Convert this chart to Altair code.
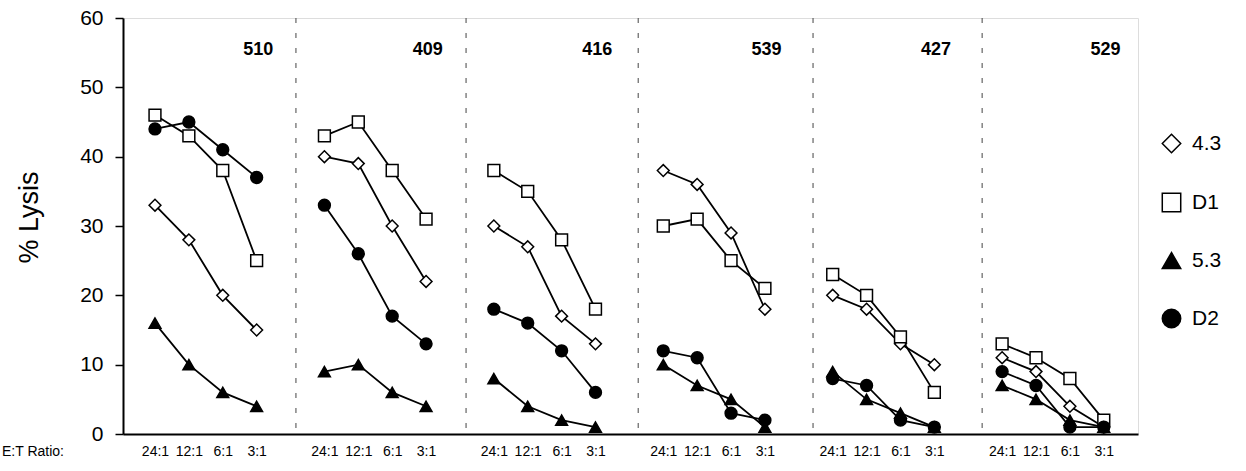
import altair as alt
import pandas as pd

panels = ["510", "409", "416", "539", "427", "529"]
ratios = ["24:1", "12:1", "6:1", "3:1"]
series = ["4.3", "D1", "5.3", "D2"]

lysis_43 = [33, 28, 20, 15, 40, 39, 30, 22, 30, 27, 17, 13, 38, 36, 29, 18, 20, 18, 13, 10, 11, 9, 4, 1]
lysis_D1 = [46, 43, 38, 25, 43, 45, 38, 31, 38, 35, 28, 18, 30, 31, 25, 21, 23, 20, 14, 6, 13, 11, 8, 2]
lysis_53 = [16, 10, 6, 4, 9, 10, 6, 4, 8, 4, 2, 1, 10, 7, 5, 1, 9, 5, 3, 1, 7, 5, 2, 1]
lysis_D2 = [44, 45, 41, 37, 33, 26, 17, 13, 18, 16, 12, 6, 12, 11, 3, 2, 8, 7, 2, 1, 9, 7, 1, 1]

values_by_series = {"4.3": lysis_43, "D1": lysis_D1, "5.3": lysis_53, "D2": lysis_D2}

# layout constants
SLOTS = 5
divider_pos = [4.16, 9.18, 14.26, 19.42, 24.41]
x_domain = [-0.944, 29.01]

rows = []
for s in series:
    vals = values_by_series[s]
    for p, pname in enumerate(panels):
        for i, r in enumerate(ratios):
            rows.append({"series": s, "panel": pname, "ratio": r,
                         "pos": p * SLOTS + i, "lysis": vals[p * 4 + i]})
df = pd.DataFrame(rows)

tick_vals = [p * SLOTS + i for p in range(len(panels)) for i in range(len(ratios))]
label_expr = "[" + ",".join(f"'{r}'" for r in ratios) + "][datum.value % 5]"

W, H = 1015, 416
SMALL_FONT = "Liberation Sans"

xscale = alt.Scale(domain=x_domain, nice=False, zero=False)
yscale = alt.Scale(domain=[0, 60], nice=False)

base = alt.Chart(df)

lines = base.mark_line(color="black", strokeWidth=1.8).encode(
    x=alt.X("pos:Q", scale=xscale,
            axis=alt.Axis(values=tick_vals, labelExpr=label_expr, title=None, grid=False,
                          ticks=False, domainColor="black", domainWidth=2,
                          labelFont=SMALL_FONT, labelFontSize=14,
                          labelColor="black", labelPadding=10, labelFlush=False,
                          labelOverlap=False)),
    y=alt.Y("lysis:Q", scale=yscale,
            axis=alt.Axis(values=[0, 10, 20, 30, 40, 50, 60], title="% Lysis", grid=False,
                          tickSize=8, tickColor="black", tickWidth=1.5,
                          domainColor="black", domainWidth=2,
                          labelFont="Liberation Sans", labelFontSize=21, labelColor="black",
                          labelPadding=12,
                          titleFont="Liberation Sans", titleFontSize=27, titleFontWeight="normal",
                          titleColor="black", titleX=-94, titleY=199, titleAngle=-90,
                          titleAlign="center", titleBaseline="middle")),
    detail=["series:N", "panel:N"],
)

leg = alt.Legend(title=None, orient="none", legendX=1038, legendY=115,
                 symbolSize=340, symbolStrokeWidth=1.5, labelFont="Liberation Sans",
                 labelFontSize=21, labelColor="black", rowPadding=34, labelOffset=10)

points = base.mark_point(filled=True, size=140, strokeWidth=1.5, opacity=1).encode(
    x=alt.X("pos:Q", scale=xscale),
    y=alt.Y("lysis:Q", scale=yscale),
    shape=alt.Shape("series:N", sort=series,
                    scale=alt.Scale(domain=series, range=["diamond", "square", "triangle-up", "circle"]),
                    legend=leg),
    fill=alt.Fill("series:N", sort=series,
                  scale=alt.Scale(domain=series, range=["white", "white", "black", "black"]),
                  legend=leg),
    stroke=alt.Stroke("series:N", sort=series,
                      scale=alt.Scale(domain=series, range=["black", "black", "black", "black"]),
                      legend=leg),
)

div_df = pd.DataFrame({"pos": divider_pos})
dividers = alt.Chart(div_df).mark_rule(color="#444", strokeWidth=1, strokeDash=[5, 10]).encode(
    x=alt.X("pos:Q", scale=xscale)
)

lab_df = pd.DataFrame({"panel": panels, "pos": [p * SLOTS + 3.05 for p in range(len(panels))]})
panel_labels = alt.Chart(lab_df).mark_text(font="Liberation Sans", fontSize=18, fontWeight="bold",
                                           color="black", baseline="middle", align="center").encode(
    x=alt.X("pos:Q", scale=xscale),
    y=alt.value(32),
    text="panel:N",
)

et_label = alt.Chart(pd.DataFrame({"t": ["E:T Ratio:"]})).mark_text(
    font=SMALL_FONT, fontSize=14, color="black", align="left", baseline="middle"
).encode(x=alt.value(-121), y=alt.value(H + 18), text="t:N")

chart = alt.layer(dividers, lines, points, panel_labels, et_label).properties(
    width=W, height=H,
    autosize=alt.AutoSizeParams(type="none"),
    padding={"left": 123, "top": 18, "right": 108, "bottom": 37},
).configure_view(stroke="#666", strokeWidth=1).configure(background="white")

chart.save("out.html", embed_options={"renderer": "svg", "actions": False})
